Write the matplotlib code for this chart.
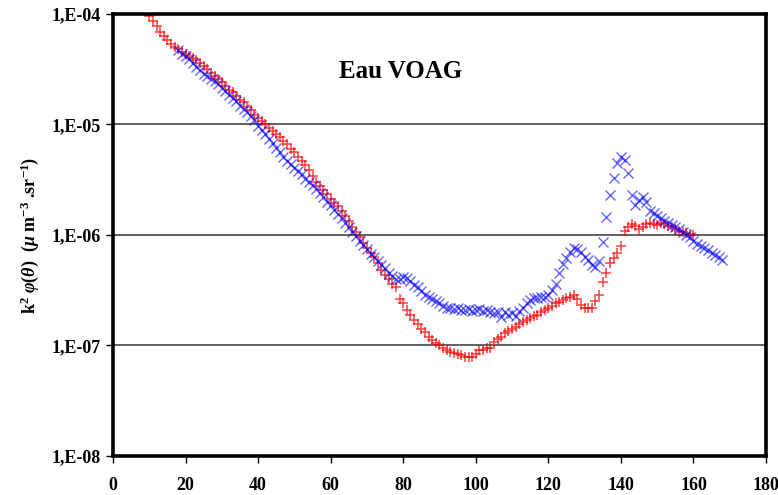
import numpy as np
import matplotlib

matplotlib.use("Agg")
import matplotlib.pyplot as plt
from matplotlib.ticker import FixedLocator, NullLocator

# angles (deg) and log10 of k^2 phi(theta)
theta_red = np.arange(10, 161)
log_red = [
    -4.02, -4.06, -4.11, -4.16, -4.20, -4.24, -4.27, -4.30, -4.32, -4.34,  # 10-19
    -4.36, -4.38, -4.40, -4.42, -4.44, -4.47, -4.50, -4.53, -4.56, -4.59,  # 20-29
    -4.62, -4.65, -4.69, -4.71, -4.74, -4.78, -4.80, -4.84, -4.87, -4.91,  # 30-39
    -4.94, -4.97, -5.00, -5.03, -5.06, -5.09, -5.11, -5.15, -5.18, -5.22,  # 40-49
    -5.25, -5.29, -5.33, -5.37, -5.41, -5.47, -5.52, -5.56, -5.59, -5.63,  # 50-59
    -5.67, -5.71, -5.74, -5.78, -5.83, -5.87, -5.93, -5.97, -6.02, -6.07,  # 60-69
    -6.12, -6.16, -6.20, -6.25, -6.32, -6.36, -6.40, -6.44, -6.47, -6.58,  # 70-79
    -6.62, -6.68, -6.72, -6.77, -6.81, -6.85, -6.88, -6.92, -6.95, -6.98,  # 80-89
    -7.00, -7.02, -7.04, -7.06, -7.07, -7.08, -7.09, -7.10, -7.10, -7.10,  # 90-99
    -7.08, -7.04, -7.04, -7.02, -7.02, -6.97, -6.94, -6.92, -6.89, -6.87,  # 100-109
    -6.85, -6.83, -6.81, -6.79, -6.77, -6.75, -6.73, -6.72, -6.70, -6.68,  # 110-119
    -6.66, -6.64, -6.62, -6.61, -6.59, -6.57, -6.56, -6.54, -6.58, -6.63,  # 120-129
    -6.66, -6.66, -6.66, -6.60, -6.54, -6.43, -6.34, -6.25, -6.21, -6.16,  # 130-139
    -6.10, -5.96, -5.93, -5.90, -5.92, -5.95, -5.93, -5.90, -5.89, -5.90,  # 140-149
    -5.91, -5.89, -5.90, -5.92, -5.93, -5.95, -5.96, -5.97, -5.98, -5.99,  # 150-159
    -6.00,  # 160
]

theta_blue = np.arange(18, 169)
log_blue = [
    -4.33, -4.36,  # 18-19
    -4.38, -4.41, -4.44, -4.48, -4.51, -4.54, -4.56, -4.59, -4.61, -4.63,  # 20-29
    -4.67, -4.70, -4.73, -4.76, -4.79, -4.83, -4.86, -4.89, -4.92, -4.96,  # 30-39
    -5.01, -5.05, -5.09, -5.13, -5.17, -5.21, -5.25, -5.29, -5.33, -5.36,  # 40-49
    -5.39, -5.42, -5.45, -5.49, -5.52, -5.55, -5.58, -5.62, -5.66, -5.70,  # 50-59
    -5.73, -5.77, -5.81, -5.85, -5.89, -5.93, -5.97, -6.01, -6.05, -6.09,  # 60-69
    -6.13, -6.17, -6.20, -6.24, -6.27, -6.30, -6.34, -6.37, -6.40, -6.40,  # 70-79
    -6.38, -6.39, -6.42, -6.45, -6.47, -6.51, -6.54, -6.56, -6.58, -6.60,  # 80-89
    -6.62, -6.64, -6.66, -6.66, -6.67, -6.66, -6.68, -6.68, -6.67, -6.69,  # 90-99
    -6.68, -6.67, -6.69, -6.68, -6.70, -6.71, -6.70, -6.74, -6.70, -6.72,  # 100-109
    -6.71, -6.73, -6.69, -6.66, -6.62, -6.59, -6.57, -6.57, -6.56, -6.56,  # 110-119
    -6.54, -6.50, -6.44, -6.34, -6.26, -6.21, -6.15, -6.12, -6.13, -6.15,  # 120-129
    -6.20, -6.23, -6.27, -6.29, -6.24, -6.06, -5.84, -5.64, -5.48, -5.35,  # 130-139
    -5.29, -5.32, -5.44, -5.64, -5.73, -5.68, -5.66, -5.70, -5.78, -5.80,  # 140-149
    -5.83, -5.85, -5.87, -5.89, -5.91, -5.93, -5.95, -5.97, -6.00, -6.02,  # 150-159
    -6.05, -6.08, -6.10, -6.12, -6.14, -6.16, -6.18, -6.20, -6.23,  # 160-168
]

y_ticks = [1e-8, 1e-7, 1e-6, 1e-5, 1e-4]
y_ticklabels = ["1,E-08", "1,E-07", "1,E-06", "1,E-05", "1,E-04"]
x_ticks = [0, 20, 40, 60, 80, 100, 120, 140, 160, 180]

plt.rcParams["font.family"] = ["Liberation Serif", "DejaVu Serif"]
plt.rcParams["font.weight"] = "bold"
plt.rcParams["mathtext.fontset"] = "custom"
plt.rcParams["mathtext.rm"] = "Liberation Serif:bold"
plt.rcParams["mathtext.it"] = "Liberation Serif:bold:italic"

fig = plt.figure(figsize=(7.78, 4.95), dpi=100)
ax = fig.add_axes([0.1452, 0.0788, 0.8394, 0.893])

ax.plot(theta_red, 10 ** np.array(log_red), linestyle="none", marker="+",
        markersize=7.5, markeredgewidth=1.1, color="red", alpha=0.75)
ax.plot(theta_blue, 10 ** np.array(log_blue), linestyle="none", marker="x",
        markersize=6.5, markeredgewidth=1.0, color="blue", alpha=0.6)

ax.set_yscale("log")
ax.set_ylim(1e-8, 1e-4)
ax.set_xlim(0, 180)

ax.yaxis.set_major_locator(FixedLocator(y_ticks))
ax.yaxis.set_minor_locator(NullLocator())
ax.set_yticklabels(y_ticklabels)
ax.set_xticks(x_ticks)

for yv in y_ticks[1:4]:
    ax.axhline(yv, color="#555555", linewidth=1.3, zorder=0)

for sp in ax.spines.values():
    sp.set_linewidth(2.6)
    sp.set_color("black")

ax.tick_params(axis="both", direction="out", length=5, width=1, labelsize=13)
ax.tick_params(axis="x", pad=10)
for lbl in ax.get_xticklabels() + ax.get_yticklabels():
    lbl.set_fontweight("bold")

ax.set_ylabel(r"k$^{2}$ $\varphi(\theta)$  ($\mu$ m$^{-3}$ .sr$^{-1}$)",
              fontsize=13, fontweight="bold", labelpad=8)

ax.text(0.44, 0.87, "Eau VOAG", transform=ax.transAxes, ha="center",
        va="center", fontsize=18, fontweight="bold")

fig.savefig("out.png", dpi=100, facecolor="white")
